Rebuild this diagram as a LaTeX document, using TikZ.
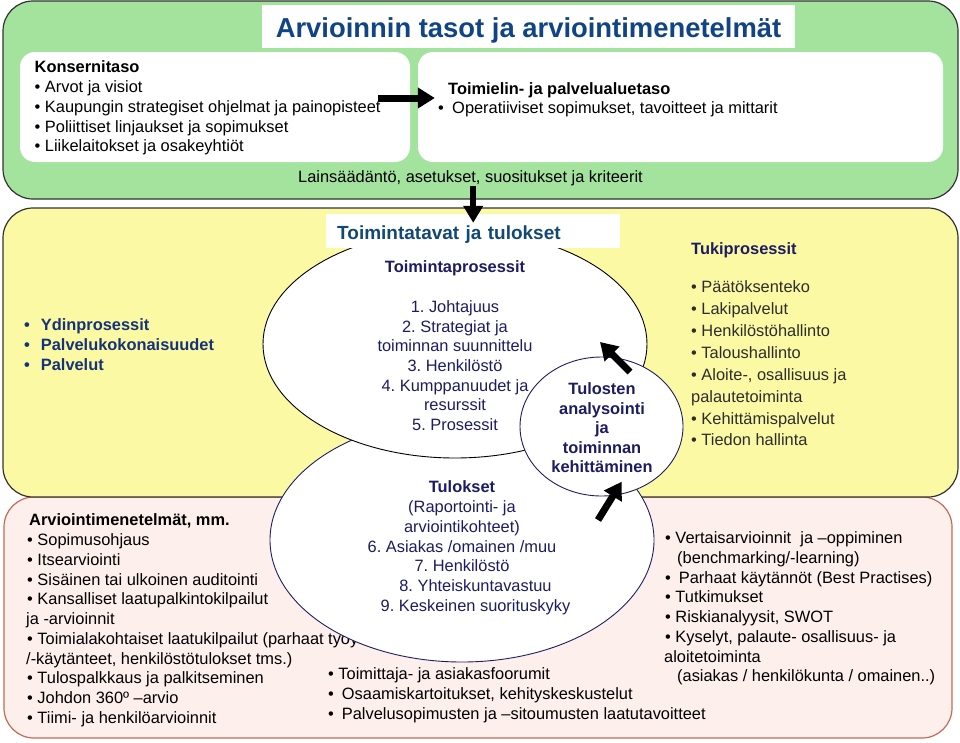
\documentclass[tikz,border=0pt]{standalone}
\usepackage{fontspec}
\setmainfont{Liberation Sans}
\usetikzlibrary{arrows.meta,shapes.geometric}
\definecolor{bandgreen}{RGB}{163,227,158}
\definecolor{bandyellow}{RGB}{252,249,164}
\definecolor{bandpink}{RGB}{253,239,236}
\definecolor{pinkline}{RGB}{200,105,85}
\definecolor{bandline}{RGB}{50,50,50}
\definecolor{titleblue}{RGB}{16,68,132}
\definecolor{tavatblue}{RGB}{18,72,118}
\definecolor{ovalline}{RGB}{30,30,100}
\definecolor{ovaltext}{RGB}{28,28,98}
\definecolor{ydinblue}{RGB}{22,50,120}
\definecolor{tukigray}{RGB}{45,45,45}
\newcommand{\st}{\rule{0pt}{12pt}}
\frenchspacing

\begin{document}
\begin{tikzpicture}[x=1pt, y=-1pt]
\tikzstyle{Band}=[draw=bandline, line width=1.2pt, rounded corners=30pt, inner sep=0pt]
\tikzstyle{Card}=[fill=white, rounded corners=15pt, inner sep=0pt]
\tikzstyle{Txt}=[font=\fontsize{16.4}{19.7}\selectfont, inner sep=0pt, align=left, anchor=north west]
\tikzstyle{Oval}=[ellipse, draw=ovalline, line width=0.9pt, fill=white, inner sep=0pt]
\tikzstyle{Mid}=[font=\fontsize{16.4}{19.7}\selectfont, inner sep=0pt, align=center, anchor=north, text=ovaltext]
\tikzstyle{Fat}=[line width=7pt, -{Triangle[length=17pt, width=20pt]}]
\useasboundingbox (0,0) rectangle (960,742);
\node[Band, fill=bandgreen, minimum width=955pt, minimum height=198pt] (taso) at (480.5,100) {};
\node[Band, draw=pinkline, fill=bandpink, minimum width=948pt, minimum height=241pt] (menetelmat) at (478,617.5) {};
\node[Band, fill=bandyellow, minimum width=955pt, minimum height=289pt] (prosessialue) at (480.5,352.5) {};
\node[fill=white, inner xsep=0pt, inner ysep=6pt, minimum width=533pt, text height=26pt, text depth=5pt,
  font=\fontsize{27.4}{30}\selectfont\bfseries, text=titleblue, anchor=base] (otsikko) at (528.5,37.3)
  {Arvioinnin tasot ja arviointimenetelmät};
\node[Card, minimum width=390pt, minimum height=110pt] (konserni) at (215,107) {};
\node[Card, minimum width=525pt, minimum height=110pt] (toimielin) at (680.5,107) {};
\node[Txt] (konsernitxt) at (34.5,60.7) {\st\textbf{Konsernitaso}\\
  • Arvot ja visiot\\
  • Kaupungin strategiset ohjelmat ja painopisteet\\
  • Poliittiset linjaukset ja sopimukset\\
  • Liikelaitokset ja osakeyhtiöt};
\node[Txt] (toimielintxt) at (438,82) {\st\hspace*{10pt}\textbf{Toimielin- ja palvelualuetaso}\\
  •\hspace{8.3pt}Operatiiviset sopimukset, tavoitteet ja mittarit};
\node[Txt, anchor=base west] (laki) at (298,182.7) {Lainsäädäntö, asetukset, suositukset ja kriteerit};
\node[Txt, font=\fontsize{16.4}{20}\selectfont\bfseries, text=ydinblue] (ydin) at (24,318) {\st\makebox[16.7pt][l]{•}Ydinprosessit\\
  \makebox[16.7pt][l]{•}Palvelukokonaisuudet\\
  \makebox[16.7pt][l]{•}Palvelut};
\node[Txt, font=\fontsize{16.4}{21.86}\selectfont, text=tukigray] (tuki) at (691,242) {\st\textcolor{ovaltext}{\textbf{Tukiprosessit}}\\[16.8pt]
  • Päätöksenteko\\
  • Lakipalvelut\\
  • Henkilöstöhallinto\\
  • Taloushallinto\\
  • Aloite-, osallisuus ja\\
  palautetoiminta\\
  • Kehittämispalvelut\\
  • Tiedon hallinta};
\node[Txt, font=\fontsize{16.4}{19.73}\selectfont] (menetelmattxt) at (26,513.7) {\st\hspace*{3pt}\textbf{Arviointimenetelmät, mm.}\\
  \hspace*{1pt}• Sopimusohjaus\\
  \hspace*{1pt}• Itsearviointi\\
  \hspace*{1pt}• Sisäinen tai ulkoinen auditointi\\
  \hspace*{1pt}• Kansalliset laatupalkintokilpailut\\
  ja -arvioinnit\\
  \hspace*{1pt}• Toimialakohtaiset laatukilpailut (parhaat työy\\
  /-käytänteet, henkilöstötulokset tms.)\\
  \hspace*{1pt}• Tulospalkkaus ja palkitseminen\\
  \hspace*{1pt}• Johdon 360º –arvio\\
  \hspace*{1pt}• Tiimi- ja henkilöarvioinnit};
\node[Txt, font=\fontsize{16.4}{20}\selectfont] (foorumit) at (328,667) {\st• Toimittaja- ja asiakasfoorumit\\
  •\hspace{8pt}Osaamiskartoitukset, kehityskeskustelut\\
  •\hspace{8pt}Palvelusopimusten ja –sitoumusten laatutavoitteet};
\node[Txt, font=\fontsize{16.4}{19.77}\selectfont] (vertais) at (664,531.3) {\st\hspace*{1pt}• Vertaisarvioinnit\ \ ja –oppiminen\\
  \hspace*{13pt}(benchmarking/-learning)\\
  \hspace*{1pt}•\hspace{8pt}Parhaat käytännöt (Best Practises)\\
  \hspace*{1pt}• Tutkimukset\\
  \hspace*{1pt}• Riskianalyysit, SWOT\\
  \hspace*{1pt}• Kyselyt, palaute- osallisuus- ja\\
  aloitetoiminta\\
  \hspace*{13pt}(asiakas / henkilökunta / omainen..)};
\node[Oval, minimum width=384pt, minimum height=244pt] (tulokset) at (462,540) {};
\node[Oval, draw=black, minimum width=384pt, minimum height=228pt] (prosessit) at (455,344) {};
\node[Oval, minimum width=163pt, minimum height=139pt] (analyysi) at (601.5,426.5) {};
\node[fill=white, anchor=base west, inner xsep=11pt, inner ysep=5pt, text width=272pt, text height=20.3pt, text depth=3.7pt,
  font=\fontsize{19}{22}\selectfont\bfseries, text=tavatblue, align=left] (tavat) at (326,239.3) {Toimintatavat ja tulokset};
\node[Mid] (prosessittxt) at (455,260.7) {\st\textbf{Toimintaprosessit}\\[19.8pt]
  1. Johtajuus\\
  2. Strategiat ja\\
  toiminnan suunnittelu\\
  3. Henkilöstö\\
  4. Kumppanuudet ja\\
  resurssit\\
  5. Prosessit};
\node[Mid, font=\fontsize{16.4}{19.6}\selectfont\bfseries] (analyysitxt) at (602,382.3) {\st Tulosten\\
  analysointi\\
  ja\\
  toiminnan\\
  kehittäminen};
\node[Mid] (tuloksettxt) at (462,480.7) {\st\textbf{Tulokset}\\
  (Raportointi- ja\\
  arviointikohteet)\\
  6. Asiakas /omainen /muu\\
  7. Henkilöstö\\
  \hspace*{27pt}8. Yhteiskuntavastuu\\
  \hspace*{27pt}9. Keskeinen suorituskyky};
\coordinate (ylosA) at (630,372);
\coordinate (ylosAk) at (600,342);
\coordinate (ylosB) at (598,520);
\coordinate (ylosBk) at (621.7,481.7);
\draw[Fat] ([xshift=-32pt,yshift=9pt]konserni.east) -- ([xshift=17pt,yshift=9pt]toimielin.west);
\draw[Fat, line width=6pt, -{Triangle[length=17pt, width=19pt]}] (laki.south -| tavat.north) -- ([yshift=-9pt]tavat.north);
\draw[Fat] (ylosA) -- (ylosAk);
\draw[Fat] (ylosB) -- (ylosBk);
\end{tikzpicture}
\end{document}
